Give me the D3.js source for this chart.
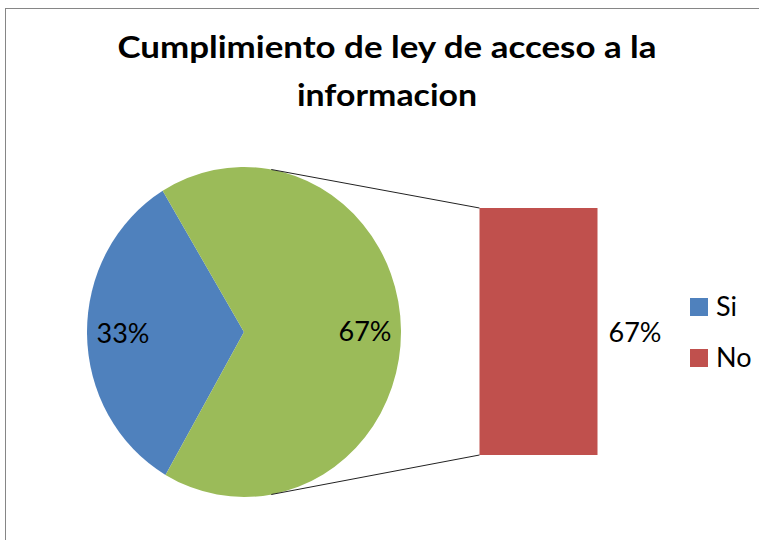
<!DOCTYPE html>
<html>
<head>
<title>Cumplimiento</title>
<style>
  body { margin: 0; background: #fff; }
  text { font-family: Lato, "Open Sans", sans-serif; }
</style>
</head>
<body>
<div id="chart"></div>
<script src="https://d3js.org/d3.v7.min.js"></script>
<script>

// data
var categories = ["Si", "No"];
var values = [33, 67];
var pieLabels = ["33%", "67%"];
var barLabels = ["67%"];
var colors = ["#4F81BD", "#C0504D"];
var otherColor = "#9BBB59";
var titleLines = ["Cumplimiento de ley de acceso a la", "informacion"];
var titleWidths = [539, 180];

// pie shows Si + "other" (= No), bar breaks the other slice down
var pieData = [values[0], values[1]];
var barData = [values[1]];

var width = 759, height = 540;

var svg = d3.select("#chart").append("svg")
    .attr("width", width)
    .attr("height", height);

// chart area border
svg.append("rect")
    .attr("x", 5.5).attr("y", 8.5)
    .attr("width", 800).attr("height", 600)
    .attr("fill", "none")
    .attr("stroke", "#868686")
    .attr("stroke-width", 1);

// title
svg.append("g").selectAll("text")
    .data(titleLines)
  .enter().append("text")
    .attr("x", 387)
    .attr("y", function(d, i) { return 58 + i * 48; })
    .attr("text-anchor", "middle")
    .attr("textLength", function(d, i) { return titleWidths[i]; })
    .attr("lengthAdjust", "spacingAndGlyphs")
    .style("font-size", "31px")
    .style("font-weight", "bold")
    .text(function(d) { return d; });

// pie (slightly stretched vertically like the picture)
var cx = 244, cy = 332, rx = 157, ry = 165;
var toRad = Math.PI / 180;

var pie = d3.pie().sort(null)
    .startAngle(210 * toRad)
    .endAngle(570 * toRad);
var arcs = pie(pieData);

var arc = d3.arc().innerRadius(0).outerRadius(rx);

var pieG = svg.append("g")
    .attr("transform", "translate(" + cx + "," + cy + ") scale(1," + (ry / rx) + ")");

pieG.selectAll("path")
    .data(arcs)
  .enter().append("path")
    .attr("d", arc)
    .attr("fill", function(d, i) { return i === 0 ? colors[0] : otherColor; });

// pie labels
var labelR = 121;
svg.append("g").selectAll("text")
    .data(arcs)
  .enter().append("text")
    .attr("x", function(d) { var a = (d.startAngle + d.endAngle) / 2; return cx + labelR * Math.sin(a); })
    .attr("y", function(d) { var a = (d.startAngle + d.endAngle) / 2; return cy - labelR * Math.cos(a) + 10; })
    .attr("text-anchor", "middle")
    .style("font-size", "27px")
    .text(function(d, i) { return pieLabels[i]; });

// bar (stacked column of the "other" slice)
var barX = 479.5, barW = 118;
var y = d3.scaleLinear().domain([0, d3.sum(barData)]).range([208, 455]);

var stackBase = 0;
var barRects = barData.map(function(v) {
  var r = { y0: stackBase, y1: stackBase + v, v: v };
  stackBase += v;
  return r;
});

svg.append("g").selectAll("rect")
    .data(barRects)
  .enter().append("rect")
    .attr("x", barX)
    .attr("y", function(d) { return y(d.y0); })
    .attr("width", barW)
    .attr("height", function(d) { return y(d.y1) - y(d.y0); })
    .attr("fill", function(d, i) { return colors[1 + i]; });

svg.append("g").selectAll("text")
    .data(barRects)
  .enter().append("text")
    .attr("x", barX + barW + 11)
    .attr("y", function(d) { return (y(d.y0) + y(d.y1)) / 2 + 10; })
    .style("font-size", "27px")
    .text(function(d, i) { return barLabels[i]; });

// connector lines from pie edge to bar corners
var connAngles = [10 * toRad, 170 * toRad];
svg.append("g").selectAll("line")
    .data(connAngles)
  .enter().append("line")
    .attr("x1", function(a) { return cx + rx * Math.sin(a); })
    .attr("y1", function(a) { return cy - ry * Math.cos(a); })
    .attr("x2", barX)
    .attr("y2", function(a, i) { return i === 0 ? y(0) : y(d3.sum(barData)); })
    .attr("stroke", "#222")
    .attr("stroke-width", 1);

// legend
var legend = svg.append("g").selectAll("g")
    .data(categories)
  .enter().append("g")
    .attr("transform", function(d, i) { return "translate(690," + (298 + i * 51) + ")"; });

legend.append("rect")
    .attr("width", 18).attr("height", 18)
    .attr("fill", function(d, i) { return colors[i]; });

legend.append("text")
    .attr("x", 26).attr("y", 18)
    .style("font-size", "27px")
    .text(function(d) { return d; });

</script>
</body>
</html>
